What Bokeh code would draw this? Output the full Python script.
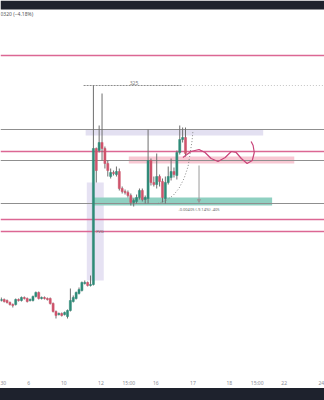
from bokeh.plotting import figure
from bokeh.models import (Range1d, FixedTicker, BoxAnnotation, Label, Div,
                          ColumnDataSource, Arrow, NormalHead)
from bokeh.layouts import column
from bokeh.embed import file_html
from bokeh.resources import INLINE

# ---------------- data ----------------
opens = [0.0300, 0.0301, 0.0300, 0.0298, 0.0296, 0.0296, 0.0301, 0.0300, 0.0303, 0.0302,
         0.0300, 0.0300, 0.0304, 0.0308, 0.0302, 0.0303, 0.0302, 0.0302, 0.0297, 0.0289,
         0.0286, 0.0287, 0.0286, 0.0284, 0.0290, 0.0299, 0.0302, 0.0307, 0.0310, 0.0317,
         0.0318, 0.0315, 0.0316, 0.0452, 0.0450, 0.0458, 0.0452, 0.0437, 0.0424, 0.0428,
         0.0426, 0.0429, 0.0412, 0.0409, 0.0408, 0.0405, 0.0398, 0.0399, 0.0403, 0.0410,
         0.0401, 0.0402, 0.0440, 0.0418, 0.0416, 0.0424, 0.0419, 0.0402, 0.0418, 0.0423,
         0.0429, 0.0425, 0.0448, 0.0461, 0.0463]
closes = [0.0301, 0.0299, 0.0298, 0.0296, 0.0295, 0.0301, 0.0300, 0.0303, 0.0302, 0.0299,
          0.0301, 0.0304, 0.0308, 0.0302, 0.0303, 0.0302, 0.0301, 0.0297, 0.0289, 0.0285,
          0.0287, 0.0285, 0.0288, 0.0290, 0.0300, 0.0303, 0.0308, 0.0311, 0.0318, 0.0318,
          0.0315, 0.0316, 0.0452, 0.0430, 0.0458, 0.0452, 0.0437, 0.0430, 0.0428, 0.0427,
          0.0429, 0.0412, 0.0409, 0.0408, 0.0405, 0.0398, 0.0400, 0.0403, 0.0410, 0.0401,
          0.0403, 0.0440, 0.0418, 0.0416, 0.0424, 0.0419, 0.0403, 0.0418, 0.0424, 0.0429,
          0.0426, 0.0448, 0.0461, 0.0463, 0.0447]
highs = [0.0303, 0.0302, 0.0301, 0.0299, 0.0297, 0.0302, 0.0302, 0.0304, 0.0304, 0.0303,
         0.0302, 0.0305, 0.0309, 0.0309, 0.0304, 0.0304, 0.0303, 0.0303, 0.0298, 0.0290,
         0.0288, 0.0288, 0.0289, 0.0291, 0.0312, 0.0305, 0.0309, 0.0313, 0.0319, 0.0320,
         0.0319, 0.0325, 0.0515, 0.0453, 0.0475, 0.0507, 0.0454, 0.0440, 0.0432, 0.0430,
         0.0434, 0.0432, 0.0414, 0.0411, 0.0410, 0.0407, 0.0402, 0.0406, 0.0412, 0.0412,
         0.0405, 0.0471, 0.0442, 0.0424, 0.0447, 0.0426, 0.0422, 0.0424, 0.0434, 0.0442,
         0.0433, 0.0450, 0.0475, 0.0473, 0.0473]
lows = [0.0299, 0.0298, 0.0297, 0.0295, 0.0293, 0.0295, 0.0299, 0.0299, 0.0301, 0.0298,
        0.0299, 0.0299, 0.0303, 0.0301, 0.0301, 0.0301, 0.0300, 0.0296, 0.0288, 0.0282,
        0.0285, 0.0284, 0.0285, 0.0282, 0.0289, 0.0298, 0.0301, 0.0306, 0.0309, 0.0316,
        0.0314, 0.0314, 0.0315, 0.0418, 0.0448, 0.0440, 0.0432, 0.0424, 0.0422, 0.0425,
        0.0424, 0.0410, 0.0407, 0.0406, 0.0403, 0.0395, 0.0394, 0.0397, 0.0401, 0.0399,
        0.0397, 0.0397, 0.0415, 0.0414, 0.0412, 0.0414, 0.0398, 0.0397, 0.0416, 0.0420,
        0.0423, 0.0421, 0.0446, 0.0458, 0.0444]
bars = list(range(len(opens)))

tick_pos = [0.4, 9.5, 21.7, 34.6, 44.3, 53.7, 66.6, 79.2, 88.9, 98.3, 111.2]
tick_labels = ["30", "6", "10", "12", "15:00", "16", "17", "18", "15:00", "22", "24"]

pink_levels = [0.0545, 0.0449, 0.0381, 0.0369]
gray_levels = [0.0471, 0.0440, 0.0397]

# zones drawn in this order: fvg first, then supply, target, demand
zone_names = ["fvg", "supply", "target", "demand"]
zone_left = [29.7, 29.3, 44.3, 32.1]
zone_right = [35.6, 91.0, 101.8, 94.1]
zone_bottom = [0.0320, 0.0465, 0.0437, 0.0395]
zone_top = [0.0418, 0.0471, 0.0444, 0.0403]

range_start = 28.6
range_mid = 62.4
range_level = 0.0515

proj_x = [54.4, 57.2, 59.7, 61.7, 63.5, 64.9, 65.6, 66.3, 66.6]
proj_y = [0.0397, 0.0400, 0.0405, 0.0412, 0.0422, 0.0434, 0.0447, 0.0460, 0.0470]

wave_x = [63.1, 65.9, 68.7, 70.8, 72.9, 75.3, 77.8, 79.9, 81.6, 83.4, 85.4, 87.2, 87.9, 87.5, 86.8]
wave_y = [0.0443, 0.0449, 0.0451, 0.0448, 0.0442, 0.0439, 0.0443, 0.0449, 0.0448, 0.0442,
          0.0437, 0.0440, 0.0448, 0.0455, 0.0459]

measure_x = 68.7
measure_from = 0.0435
measure_to = 0.0398

# ---------------- styling ----------------
UP = "#2e8b78"
DOWN = "#cf536b"
WICK = "#6e6e6e"
PINK = "#dc6794"
GRAY = "#8f8f8f"
FONT = "Noto Sans"
DARK = "#1e222d"
X0, X1 = -0.28, 112.3

body_top = [max(o, c) for o, c in zip(opens, closes)]
body_bot = [min(o, c) for o, c in zip(opens, closes)]
colors = [UP if c >= o else DOWN for o, c in zip(opens, closes)]
src = ColumnDataSource(dict(x=bars, top=body_top, bottom=body_bot, high=highs, low=lows, color=colors))

p = figure(width=324, height=388, x_range=Range1d(X0, X1), y_range=Range1d(0.0224, 0.0600),
           output_backend="svg", toolbar_location=None, y_axis_location=None,
           background_fill_color="white", border_fill_color="white")
p.min_border = 0
p.min_border_bottom = 12
p.outline_line_color = None
p.grid.visible = False

ax = p.xaxis[0]
ax.ticker = FixedTicker(ticks=tick_pos)
ax.major_label_overrides = {t: l for t, l in zip(tick_pos, tick_labels)}
ax.axis_line_color = None
ax.major_tick_line_color = None
ax.minor_tick_line_color = None
ax.major_tick_out = 0
ax.major_tick_in = 0
ax.major_label_standoff = 3
ax.major_label_text_font_size = "5px"
ax.major_label_text_color = "#8a8d95"
ax.major_label_text_font = FONT

# top dark band
p.add_layout(BoxAnnotation(bottom=0.0591, fill_color=DARK, fill_alpha=1, line_color=None, level="overlay"))

# zones
zone_fill = ["#e6e2f3", "#e3e0f1", "#f8c8d3", "#8fd0c1"]
for l, r, b, t, fc in zip(zone_left, zone_right, zone_bottom, zone_top, zone_fill):
    p.add_layout(BoxAnnotation(left=l, right=r, bottom=b, top=t, fill_color=fc, fill_alpha=1,
                               line_color=None, level="underlay"))

# horizontal levels
p.segment(x0=[X0] * len(gray_levels), x1=[X1] * len(gray_levels), y0=gray_levels, y1=gray_levels,
          line_color=GRAY, line_width=1)
p.segment(x0=[X0] * len(pink_levels), x1=[X1] * len(pink_levels), y0=pink_levels, y1=pink_levels,
          line_color=PINK, line_width=1.5)

# range line from the spike high
p.line([range_start, range_mid], [range_level, range_level], line_color="#8c8c8c", line_dash="2 1", line_width=1)
p.line([range_mid, X1], [range_level, range_level], line_color="#c4c4c4", line_dash="1 2", line_width=1)
p.add_layout(Label(x=46.1, y=range_level, text="325", text_font_size="5px", text_color="#777777",
                   text_align="center", text_baseline="bottom", y_offset=1, text_font=FONT))

# candles
p.segment(x0="x", y0="low", x1="x", y1="high", source=src, line_color=WICK, line_width=1)
p.vbar(x="x", top="top", bottom="bottom", width=0.72, source=src, fill_color="color",
       line_color="color", line_width=0.5)

# projection curve & wave
p.line(proj_x, proj_y, line_color="#8a8a8a", line_dash="1 2", line_width=1)
p.line(wave_x, wave_y, line_color="#c9457a", line_width=1.2)

# measurement
p.add_layout(Arrow(x_start=measure_x, y_start=measure_from, x_end=measure_x, y_end=measure_to,
                   line_color="#9a9a9a", line_width=1,
                   end=NormalHead(size=3, fill_color="#9a9a9a", line_color="#9a9a9a")))
p.add_layout(Label(x=measure_x, y=0.0391, text="-0.00405 (-9.14%) -405", text_font_size="4px",
                   text_color="#6a6a6a", text_align="center", text_baseline="middle", text_font=FONT))

p.add_layout(Label(x=33.0, y=0.0369, text="FVG", text_font_size="4px", text_color="#6a6a6a",
                   text_align="left", text_baseline="middle", text_font=FONT))

p.add_layout(Label(x=0, x_units="screen", y=0.0587, text="0320 (\u22124.18%)", text_font_size="5px",
                   text_color="#555555", text_align="left", text_baseline="middle", text_font=FONT))

bottom_band = Div(text="", width=324, height=12, margin=0, styles={"background-color": DARK})

layout = column(p, bottom_band, spacing=0)
open("out.html", "w").write(file_html(layout, INLINE))
